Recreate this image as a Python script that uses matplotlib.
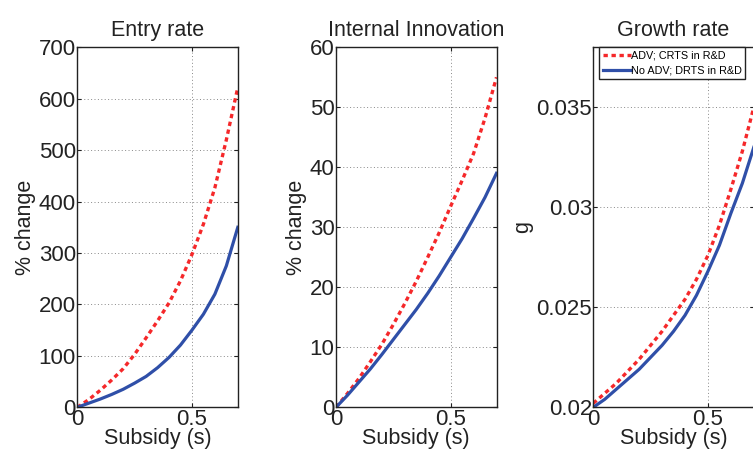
import numpy as np
import matplotlib
matplotlib.use("Agg")
import matplotlib.pyplot as plt

plt.rcParams["font.family"] = ["Liberation Sans", "DejaVu Sans"]

# Subsidy grid
subsidy = [0.0, 0.05, 0.1, 0.15, 0.2, 0.25, 0.3, 0.35, 0.4, 0.45, 0.5, 0.55, 0.6, 0.65, 0.7]

# Entry rate (% change)
entry_adv = [0, 15, 33, 53, 75, 103, 135, 168, 203, 246, 297, 356, 427, 520, 622]
entry_noadv = [0, 8, 16, 25, 35, 47, 60, 77, 97, 121, 150, 181, 220, 275, 350]

# Internal innovation (% change)
innov_adv = [0, 2.3, 4.8, 7.6, 10.5, 13.8, 17.3, 21.0, 25.0, 29.1, 33.5, 37.8, 42.3, 48.2, 55.0]
innov_noadv = [0, 2.0, 4.2, 6.4, 8.8, 11.3, 13.8, 16.3, 19.0, 21.9, 25.0, 28.1, 31.5, 35.0, 39.0]

# Growth rate g
growth_adv = [0.0202, 0.0207, 0.0212, 0.0218, 0.0224, 0.0231, 0.0238, 0.0246, 0.0254,
              0.0264, 0.0276, 0.0291, 0.0309, 0.0328, 0.0350]
growth_noadv = [0.0200, 0.0204, 0.0209, 0.0214, 0.0219, 0.0225, 0.0231, 0.0238, 0.0246,
                0.0256, 0.0268, 0.0281, 0.0297, 0.0312, 0.0330]

titles = ["Entry rate", "Internal Innovation", "Growth rate"]
ylabels = ["% change", "% change", "g"]
legend_labels = ["ADV; CRTS in R&D", "No ADV; DRTS in R&D"]

RED = "#F5282A"
BLUE = "#2F4FA8"
INK = "#222222"

fig = plt.figure(figsize=(7.53, 4.55), dpi=100)

W, H = 753.0, 455.0
lefts = [77.3, 336.0, 593.3]
aw, bottom_px, top_px = 160.5, 407.3, 47.3

panels = [
    (entry_adv, entry_noadv, (0, 700), np.arange(0, 701, 100), None),
    (innov_adv, innov_noadv, (0, 60), np.arange(0, 61, 10), None),
    (growth_adv, growth_noadv, (0.02, 0.038), [0.02, 0.025, 0.03, 0.035],
     ["0.02", "0.025", "0.03", "0.035"]),
]

for i, (ya, yb, ylim, yticks, yticklabels) in enumerate(panels):
    ax = fig.add_axes([lefts[i] / W, (H - bottom_px) / H, aw / W, (bottom_px - top_px) / H])
    l1, = ax.plot(subsidy, ya, color=RED, lw=2.4, linestyle=(0, (1.3, 1.1)))
    l2, = ax.plot(subsidy, yb, color=BLUE, lw=2.3)
    ax.set_xlim(0, 0.7)
    ax.set_ylim(*ylim)
    ax.set_xticks([0, 0.5])
    ax.set_xticklabels(["0", "0.5"])
    ax.set_yticks(yticks)
    if yticklabels:
        ax.set_yticklabels(yticklabels)
    ax.grid(True, linestyle=(0, (1, 2.5)), color="#888888", lw=0.7)
    ax.tick_params(direction="in", length=3, width=0.8, labelsize=16, pad=1,
                   top=True, right=True, colors=INK)
    for sp in ax.spines.values():
        sp.set_linewidth(1.0)
        sp.set_color(INK)
    ax.set_title(titles[i], fontsize=15.5, pad=8, color=INK)
    ax.set_xlabel("Subsidy (s)", fontsize=15.5, labelpad=-1, color=INK)
    ax.set_ylabel(ylabels[i], fontsize=15.5, labelpad=2, color=INK)
    if i == 2:
        leg = ax.legend([l1, l2], legend_labels, loc="upper left",
                        bbox_to_anchor=(6 / aw, 1.0), fontsize=7.8,
                        handlelength=2.6, handletextpad=0.05, borderpad=0.3,
                        labelspacing=0.45, borderaxespad=0.0, fancybox=False,
                        framealpha=1.0)
        leg.get_frame().set_edgecolor(INK)
        leg.get_frame().set_linewidth(1.0)

fig.savefig("out.png", dpi=100, facecolor="white")
